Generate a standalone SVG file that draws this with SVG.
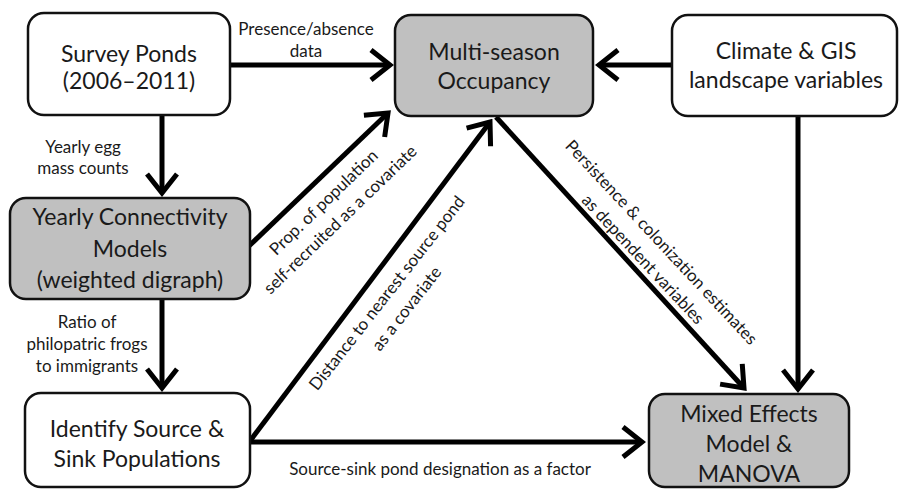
<svg xmlns="http://www.w3.org/2000/svg" width="901" height="489" viewBox="0 0 901 489">
  <defs>
    <style>
      .box { stroke: #111; stroke-width: 2.5; }
      .white { fill: #ffffff; }
      .gray { fill: #c0c0c0; }
      .node { font-family: Lato, "Open Sans", sans-serif; font-size: 23px; fill: #1a1a1a; text-anchor: middle; }
      .lbl { font-family: Lato, "Open Sans", sans-serif; font-size: 17px; fill: #1a1a1a; text-anchor: middle; }
      .conn { stroke: #000; stroke-width: 5; fill: none; marker-end: url(#arr); }
    </style>
    <marker id="arr" markerUnits="userSpaceOnUse" viewBox="-26 -20 30 40" refX="0" refY="0" markerWidth="30" markerHeight="40" orient="auto">
      <path d="M-19,-15 L0,0 L-19,15" fill="none" stroke="#000" stroke-width="5" stroke-linejoin="miter"/>
    </marker>
  </defs>
  <rect width="901" height="489" fill="#ffffff"/>

  <g id="connectors">
    <line class="conn" x1="231" y1="65" x2="390" y2="65"/>
    <line class="conn" x1="671" y1="65" x2="599" y2="65"/>
    <line class="conn" x1="162" y1="116" x2="162" y2="193"/>
    <line class="conn" x1="162" y1="300" x2="162" y2="388"/>
    <line class="conn" x1="249" y1="246" x2="388" y2="113"/>
    <line class="conn" x1="250" y1="441" x2="490" y2="122"/>
    <line class="conn" x1="496" y1="117" x2="744" y2="388"/>
    <line class="conn" x1="798" y1="116" x2="798" y2="389"/>
    <line class="conn" x1="250" y1="442" x2="642" y2="442"/>
    <text class="lbl" x="306" y="35">Presence/absence</text>
    <text class="lbl" x="306" y="57">data</text>
    <text class="lbl" x="83" y="153">Yearly egg</text>
    <text class="lbl" x="83" y="174">mass counts</text>
    <text class="lbl" x="87" y="328">Ratio of</text>
    <text class="lbl" x="87" y="350">philopatric frogs</text>
    <text class="lbl" x="87" y="372">to immigrants</text>
    <text class="lbl" x="440" y="475">Source-sink pond designation as a factor</text>
    <g transform="translate(332.5,211.5) rotate(-44)">
      <text class="lbl" x="0" y="-7">Prop. of population</text>
      <text class="lbl" x="0" y="17">self-recruited as a covariate</text>
    </g>
    <g transform="translate(397,301) rotate(-52)">
      <text class="lbl" x="0" y="-7">Distance to nearest source pond</text>
      <text class="lbl" x="0" y="18">as a covariate</text>
    </g>
    <g transform="translate(652,251) rotate(47)">
      <text class="lbl" x="0" y="-7">Persistence &amp; colonization estimates</text>
      <text class="lbl" x="0" y="18">as dependent variables</text>
    </g>
  </g>

  <g id="survey">
    <rect class="box white" x="28" y="13" width="202" height="102" rx="16"/>
    <text class="node" x="129" y="62">Survey Ponds</text>
    <text class="node" x="129" y="89">(2006–2011)</text>
  </g>
  <g id="occupancy">
    <rect class="box gray" x="395" y="15" width="198" height="101" rx="16"/>
    <text class="node" x="494" y="60">Multi-season</text>
    <text class="node" x="494" y="89">Occupancy</text>
  </g>
  <g id="climate">
    <rect class="box white" x="672" y="15" width="225" height="101" rx="16"/>
    <text class="node" x="786" y="59">Climate &amp; GIS</text>
    <text class="node" x="786" y="88">landscape variables</text>
  </g>
  <g id="connectivity">
    <rect class="box gray" x="10" y="198" width="240" height="101" rx="16"/>
    <text class="node" x="130" y="225">Yearly Connectivity</text>
    <text class="node" x="130" y="257">Models</text>
    <text class="node" x="130" y="288">(weighted digraph)</text>
  </g>
  <g id="identify">
    <rect class="box white" x="25" y="393" width="225" height="94" rx="16"/>
    <text class="node" x="137" y="437">Identify Source &amp;</text>
    <text class="node" x="137" y="467">Sink Populations</text>
  </g>
  <g id="mixed">
    <rect class="box gray" x="649" y="394" width="200" height="93" rx="16"/>
    <text class="node" x="749" y="422">Mixed Effects</text>
    <text class="node" x="749" y="452">Model &amp;</text>
    <text class="node" x="749" y="482">MANOVA</text>
  </g>
</svg>
